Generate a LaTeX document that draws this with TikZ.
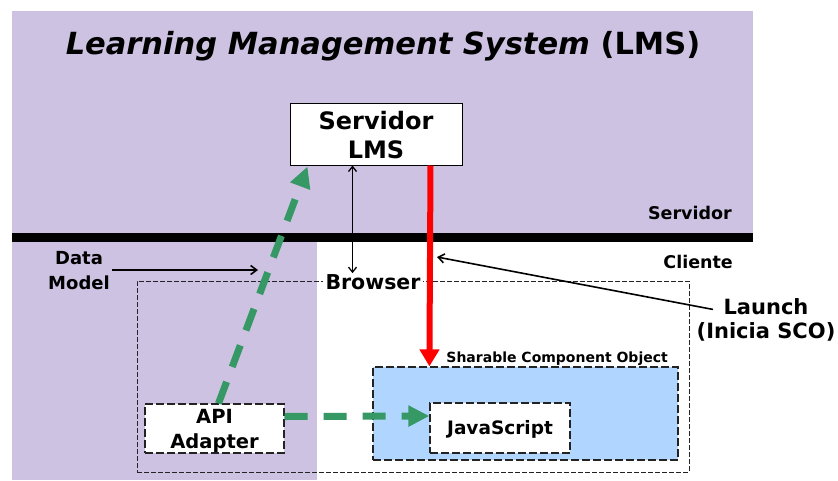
\documentclass[tikz,border=0pt]{standalone}
\usepackage{fontspec}
\setmainfont{DejaVu Sans}
\usetikzlibrary{arrows.meta,calc}
\definecolor{lmspurple}{RGB}{205,194,226}
\definecolor{scoblue}{RGB}{176,214,255}
\definecolor{apigreen}{RGB}{54,152,100}
\definecolor{boxgray}{RGB}{35,35,35}
\begin{document}
\begin{tikzpicture}[x=1pt,y=-1pt,
  txt/.style={inner sep=0pt, align=center},
  dbox/.style={draw=boxgray, line width=1.2pt, dash pattern=on 8pt off 3pt, fill=white, inner sep=0pt},
  greenarrow/.style={draw=apigreen, line width=7pt, dash pattern=on 23pt off 16pt, -{Triangle[length=21pt,width=20pt]}},
  thinarrow/.style={draw=black, line width=1.6pt, -{Straight Barb[length=6pt,width=9pt]}}]
\useasboundingbox (0,0) rectangle (838,480);
\fill[white] (0,0) rectangle (838,480);
\fill[lmspurple] (12,11) rectangle (753,238);
\fill[lmspurple] (12,238) rectangle (317,480);
\fill[black] (12,233) rectangle (753,242);

% title
\node[txt, anchor=base, font=\bfseries\fontsize{30.5}{34}\selectfont] (title) at (383,54)
  {\textit{Learning Management System} (LMS)};

% server box
\node[draw, line width=1pt, fill=white, minimum width=172pt, minimum height=62pt, inner sep=0pt] (srv) at (376,134) {};
\node[txt, font=\bfseries\fontsize{24}{29}\selectfont] (srvtxt) at (376,135) {Servidor\\LMS};

% side labels
\node[txt, anchor=base east, font=\bfseries\fontsize{17.5}{21}\selectfont] (servidor) at (732,219) {Servidor};
\node[txt, anchor=base east, font=\bfseries\fontsize{17.5}{21}\selectfont] (cliente) at (733,268) {Cliente};
\node[txt, font=\bfseries\fontsize{18}{25}\selectfont] (datamodel) at (79,271) {Data\\Model};
\node[txt, font=\bfseries\fontsize{21}{24}\selectfont] (launch) at (766,320) {Launch\\(Inicia SCO)};

% browser box
\node[draw=boxgray, line width=1pt, dash pattern=on 5pt off 2pt, minimum width=552pt, minimum height=191pt, inner sep=0pt] (browser) at (413,376.5) {};
\node[fill=white, inner xsep=3pt, inner ysep=1pt, font=\bfseries\fontsize{20.5}{23}\selectfont] (brlbl) at (373,282) {Browser};

% SCO box
\node[dbox, fill=scoblue, minimum width=305pt, minimum height=93pt] (sco) at (525.5,413.5) {};
\node[txt, anchor=base east, font=\bfseries\fontsize{14}{16}\selectfont] (scolbl) at (668,362) {Sharable Component Object};

% inner boxes
\node[dbox, minimum width=140pt, minimum height=50pt] (js) at (500,428) {};
\node[txt, font=\bfseries\fontsize{18.5}{22}\selectfont] (jstxt) at (500,429) {JavaScript};
\node[dbox, minimum width=139pt, minimum height=49pt] (api) at (214.5,428.5) {};
\node[txt, font=\bfseries\fontsize{19.5}{25}\selectfont] (apitxt) at (214.5,431) {API\\Adapter};

% connectors
\coordinate (redtop) at ($(srv.south east)+(-32,0)$);
\coordinate (redbot) at ($(sco.north west)+(57,0)$);
\draw[red, line width=6pt, -{Triangle[length=17pt,width=19pt]}] (redtop) -- (redbot);

\coordinate (dtop) at ($(srv.south west)+(63,0)$);
\coordinate (dbot) at (dtop |- brlbl.north);
\draw[black, line width=1.3pt, {Straight Barb[length=5pt,width=8pt]}-{Straight Barb[length=5pt,width=8pt]}] (dtop) -- (dbot);

\draw[greenarrow] ($(api.north)+(4,0)$) -- ($(srv.south west)+(18,1)$);
\draw[greenarrow] ($(api.east)+(0,-12)$) -- ($(js.west)+(0,-12)$);

\coordinate (dmtip) at (258,270);
\draw[thinarrow] ($(datamodel.east)+(2,-1)$) -- (dmtip);
\coordinate (lntip) at (437,257);
\draw[thinarrow] ($(launch.north)+(-53,11)$) -- (lntip);
\end{tikzpicture}
\end{document}
